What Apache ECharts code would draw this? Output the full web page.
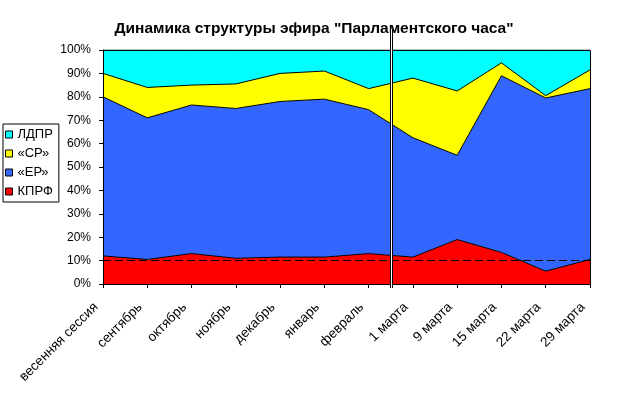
<!DOCTYPE html>
<html><head><meta charset="utf-8">
<script src="https://cdn.jsdelivr.net/npm/echarts@6/dist/echarts.min.js"></script>
<style>html,body{margin:0;padding:0;background:#fff}#c{width:628px;height:400px}</style>
</head><body><div id="c"></div>
<script>
const categories = ['весенняя сессия','сентябрь','октябрь','ноябрь','декабрь','январь','февраль','1 марта','9 марта','15 марта','22 марта','29 марта'];
const kprf = [12, 10.5, 13, 11, 11.5, 11.5, 13, 11.5, 19, 13.5, 5.5, 10.5];
const er   = [68, 60.5, 63.5, 64, 66.5, 67.5, 61.5, 51, 36, 75.5, 74, 73];
const sr   = [10, 13, 8.5, 10.5, 12, 12, 9, 25.5, 27.5, 5.5, 1, 8];
const ldpr = [10, 16, 15, 14.5, 10, 9, 16.5, 12, 17.5, 5.5, 19.5, 8.5];
const seriesNames = ['КПРФ','«ЕР»','«СР»','ЛДПР'];
const seriesColors = ['#ff0000','#3366ff','#ffff00','#00ffff'];
const refLevel = 10;
const markerBetween = ['февраль','1 марта'];

const FONT = '"Liberation Sans", Arial, sans-serif';
const chart = echarts.init(document.getElementById('c'), null, {renderer:'canvas'});
const dataSets = [kprf, er, sr, ldpr];
const series = dataSets.map((d, i) => ({
  name: seriesNames[i], type: 'line', stack: 'total', data: d,
  symbol: 'none', smooth: false,
  lineStyle: {color: '#000', width: 1},
  itemStyle: {color: seriesColors[i]},
  areaStyle: {color: seriesColors[i], opacity: 1},
  z: 2
}));
series[0].markLine = {
  silent: true, symbol: 'none', label: {show: false},
  lineStyle: {color: '#000', width: 1, type: [8, 4]},
  data: [{yAxis: refLevel}], z: 5
};
chart.setOption({
  animation: false,
  backgroundColor: '#fff',
  title: {
    text: 'Динамика структуры эфира "Парламентского часа"',
    left: 'center', top: 16,
    textStyle: {fontFamily: FONT, fontSize: 15.5, fontWeight: 'bold', color: '#000'}
  },
  legend: {
    orient: 'vertical', left: 3, top: 124,
    itemWidth: 7, itemHeight: 7, itemGap: 6,
    padding: [4, 6, 4, 2],
    borderColor: '#000', borderWidth: 1, backgroundColor: '#fff',
    textStyle: {fontFamily: FONT, fontSize: 13, color: '#000'},
    data: [3, 2, 1, 0].map(i => ({
      name: seriesNames[i], icon: 'rect',
      itemStyle: {color: seriesColors[i], borderColor: '#000', borderWidth: 1}
    }))
  },
  grid: {left: 103, right: 38, top: 50, bottom: 116, containLabel: false},
  xAxis: {
    type: 'category', data: categories, boundaryGap: false,
    axisLine: {lineStyle: {color: '#000', width: 1}},
    axisTick: {show: true, length: 4, lineStyle: {color: '#000'}},
    axisLabel: {rotate: 45, interval: 0, margin: 14, padding: [0, 10, 0, 0], fontFamily: FONT, fontSize: 13.5, color: '#000'},
    splitLine: {show: false}
  },
  yAxis: {
    type: 'value', min: 0, max: 100, interval: 10,
    axisLine: {show: true, lineStyle: {color: '#000', width: 1}},
    axisTick: {show: true, length: 4, lineStyle: {color: '#000'}},
    axisLabel: {formatter: '{value}%', margin: 12, fontFamily: FONT, fontSize: 12, color: '#000'},
    splitLine: {show: false}
  },
  series: series
});

const p0 = chart.convertToPixel({gridIndex: 0}, [categories[0], 100]);
const p1 = chart.convertToPixel({gridIndex: 0}, [categories[categories.length - 1], 0]);
const xa = chart.convertToPixel({xAxisIndex: 0}, markerBetween[0]);
const xb = chart.convertToPixel({xAxisIndex: 0}, markerBetween[1]);
const mx = Math.round((xa + xb) / 2);
chart.setOption({
  graphic: [
    {type: 'rect', z: 100, silent: true,
     shape: {x: Math.round(p0[0]) + 0.5, y: Math.round(p0[1]) + 0.5, width: Math.round(p1[0] - p0[0]), height: Math.round(p1[1] - p0[1])},
     style: {fill: null, stroke: '#000', lineWidth: 1}},
    {type: 'rect', z: 101, silent: true,
     shape: {x: mx, y: 29, width: 1, height: 259}, style: {fill: '#fff'}},
    {type: 'line', z: 102, silent: true,
     shape: {x1: mx - 0.5, y1: 29, x2: mx - 0.5, y2: 288}, style: {stroke: '#000', lineWidth: 1}},
    {type: 'line', z: 102, silent: true,
     shape: {x1: mx + 1.5, y1: 29, x2: mx + 1.5, y2: 288}, style: {stroke: '#000', lineWidth: 1}}
  ]
});
</script></body></html>
